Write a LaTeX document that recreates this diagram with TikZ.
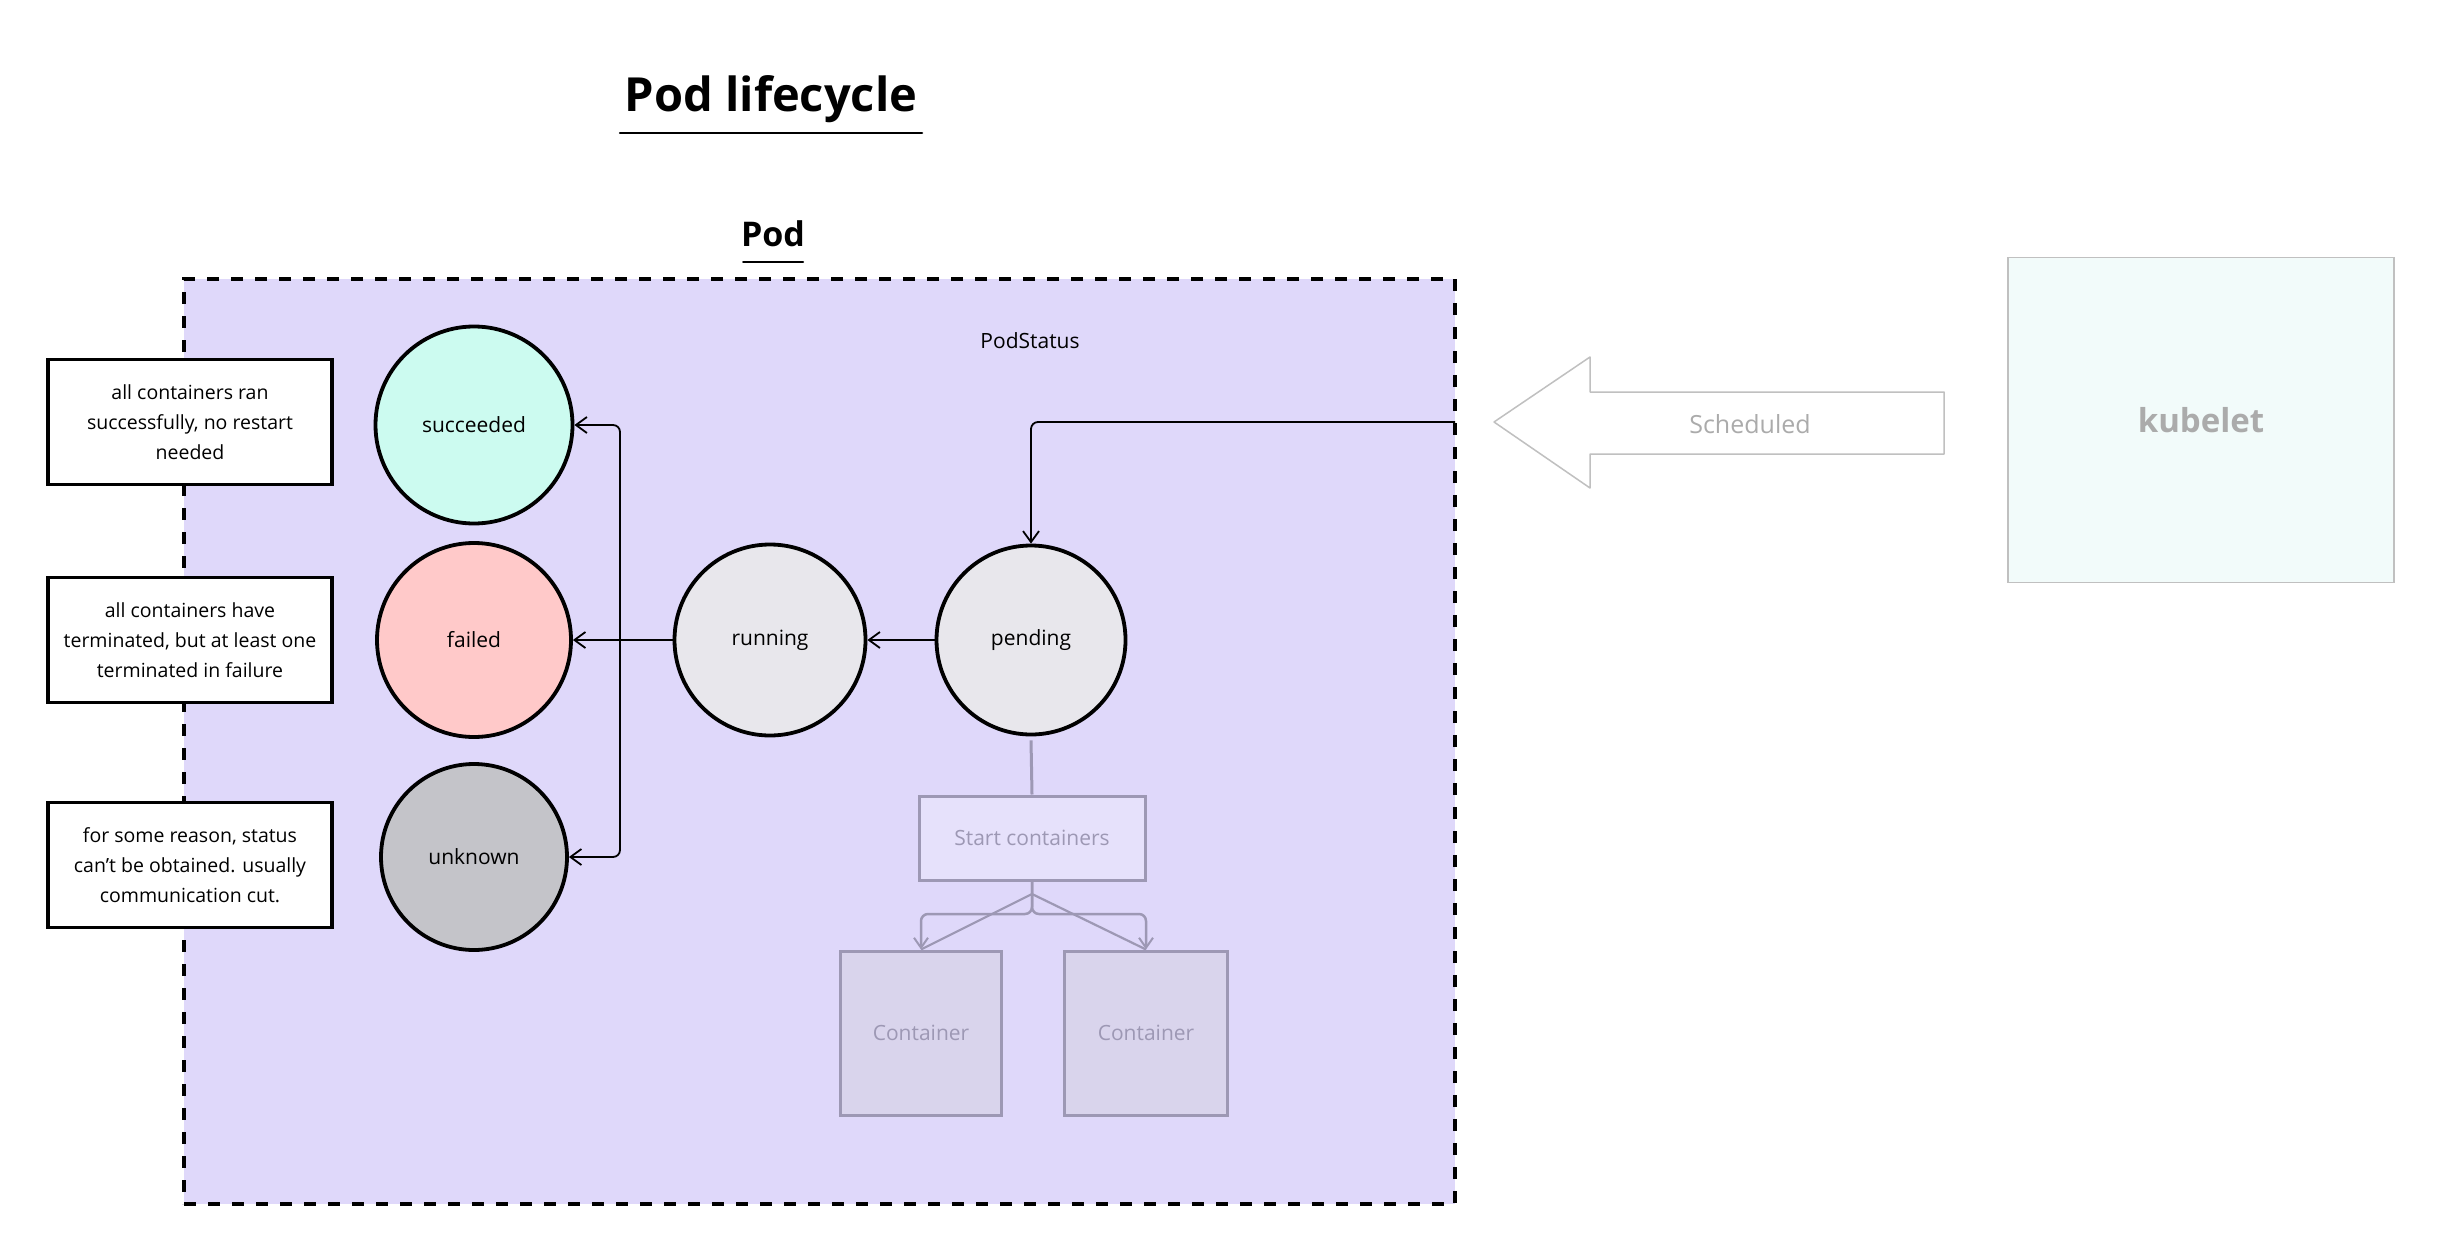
\documentclass[tikz,border=0pt]{standalone}
\usepackage{fontspec}
\setmainfont{Open Sans}
\usetikzlibrary{arrows.meta,shapes.geometric}
\definecolor{podfill}{HTML}{DFD8FA}
\definecolor{succc}{HTML}{CCFBF0}
\definecolor{failc}{HTML}{FFC9C9}
\definecolor{unkc}{HTML}{C4C4C9}
\definecolor{runc}{HTML}{E8E7EC}
\definecolor{startfill}{HTML}{E6E1FB}
\definecolor{contfill}{HTML}{D9D4EC}
\definecolor{pale}{HTML}{9D98B4}
\definecolor{kubefill}{HTML}{F2FBFA}
\definecolor{kubedraw}{HTML}{C0C0C0}
\definecolor{kubetext}{HTML}{ABABAB}
\newcommand\nodefnt{\fontsize{21}{30}\selectfont}
\newcommand\notefnt{\fontsize{19.5}{30}\selectfont}
\begin{document}
\begin{tikzpicture}[x=1pt,y=-1pt,
  state/.style={circle, draw=black, line width=3.8pt, minimum size=#1, inner sep=0pt, font=\nodefnt},
  note/.style={draw=black, line width=3.8pt, fill=white, minimum width=284pt, minimum height=125pt, align=center, inner sep=2pt, font=\notefnt},
  conn/.style={draw=black, line width=1.8pt, rounded corners=7pt, -{Straight Barb[length=11pt,width=16pt,line width=1.8pt]}},
  paleconn/.style={draw=pale, line width=2.5pt, rounded corners=7pt, -{Straight Barb[length=10pt,width=14pt,line width=2pt]}},
  palebox/.style={draw=pale, line width=3pt, text=pale, font=\nodefnt, inner sep=0pt}
]
\useasboundingbox (0,0) rectangle (2440,1252);
\fill[white] (0,0) rectangle (2440,1252);

% Pod container
\node[draw=black, fill=podfill, line width=4pt, dash pattern=on 12pt off 12pt,
      minimum width=1271pt, minimum height=925pt, inner sep=0pt] (pod) at (819.5,741.5) {};

% Titles
\node[font=\fontsize{47}{50}\selectfont\bfseries, anchor=base] (title) at (771,112) {Pod lifecycle};
\draw[line width=2.5pt, line cap=round] (620,133) -- (922,133);
\node[font=\fontsize{34}{40}\selectfont\bfseries, anchor=base] (podlabel) at (773,246) {Pod};
\draw[line width=2pt, line cap=round] (743,262) -- (803,262);
\node[font=\nodefnt] (podstatus) at (1030,341) {PodStatus};

% State circles
\node[state=197pt, fill=succc] (succeeded) at (474,425) {succeeded};
\node[state=194pt, fill=failc] (failed) at (474,640) {failed};
\node[state=186pt, fill=unkc] (unknown) at (474,857) {unknown};
\node[state=191pt, fill=runc] (running) at (770,640) {running};
\node[state=189pt, fill=runc] (pending) at (1031,640) {pending};

% Notes
\node[note] (n1) at (190,422) {all containers ran\\successfully, no restart\\needed};
\node[note] (n2) at (190,640) {all containers have\\terminated, but at least one\\terminated in failure};
\node[note] (n3) at (190,865) {for some reason, status\\can't be obtained. usually\\communication cut.};

% Start containers and containers
\node[palebox, fill=startfill, minimum width=226pt, minimum height=84pt] (start) at (1032,838) {Start containers};
\node[palebox, fill=contfill, minimum width=161pt, minimum height=164pt] (c1) at (921,1033) {Container};
\node[palebox, fill=contfill, minimum width=163pt, minimum height=164pt] (c2) at (1146,1033) {Container};

% Scheduled arrow
\node[draw=none, inner sep=0pt] (schedtip) at (1494,422) {};
\draw[draw=kubedraw, line width=1.5pt, fill=white, line join=round]
  (schedtip.center) -- (1590,357) -- (1590,392) -- (1944,392) -- (1944,454) -- (1590,454) -- (1590,488) -- cycle;
\node[text=kubetext, font=\fontsize{25}{28}\selectfont] (sched) at (1750,424) {Scheduled};

% kubelet
\node[draw=kubedraw, fill=kubefill, line width=1.5pt, minimum width=386pt, minimum height=325pt,
      text=kubetext, font=\fontsize{33}{40}\selectfont\bfseries] (kubelet) at (2201,420) {kubelet};

% Connectors
\coordinate (podin) at (1455,422);
\coordinate (branch) at (620,640);
\draw[conn] (podin) -| (pending.north);
\draw[conn, line width=2.6pt] (pending.west) -- (running.east);
\draw[conn] (running.west) -- (failed.east);
\draw[conn] (branch) |- (succeeded.east);
\draw[conn] (branch) |- (unknown.east);

\draw[draw=pale, line width=3pt] ([yshift=-4pt]pending.south) -- (start.north);
\coordinate (split) at (1032,894);
\draw[paleconn] (start.south) -- (1032,914) -| (c1.north);
\draw[paleconn] (start.south) -- (1032,914) -| (c2.north);
\draw[draw=pale, line width=2.2pt] (split) -- (c1.north);
\draw[draw=pale, line width=2.2pt] (split) -- (c2.north);
\end{tikzpicture}
\end{document}
